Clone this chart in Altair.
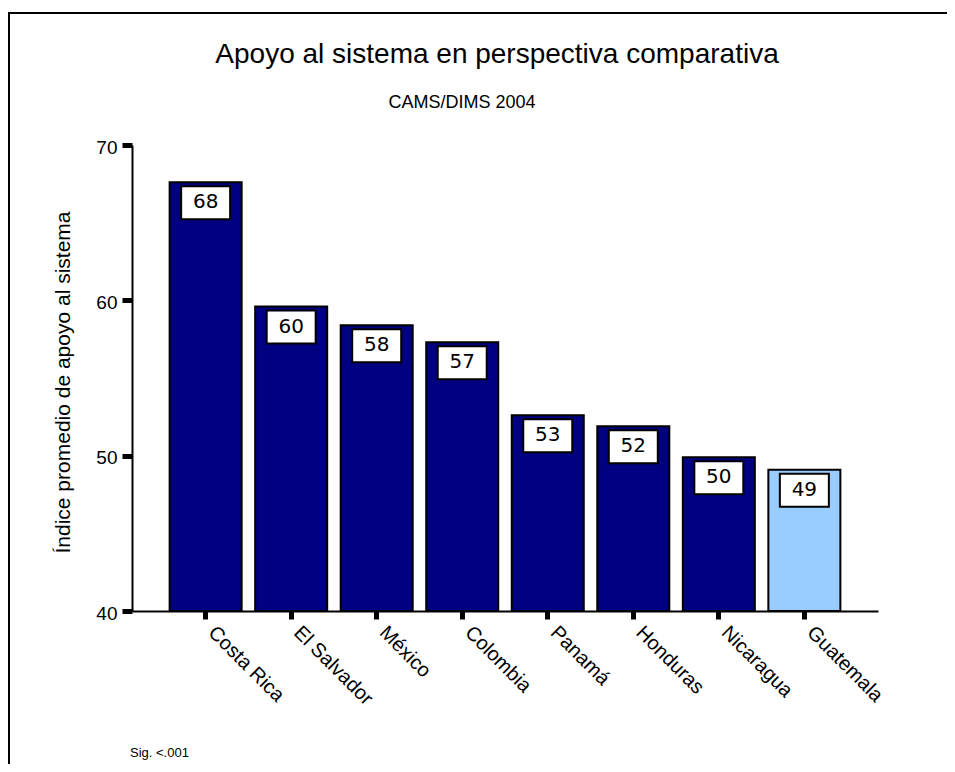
import altair as alt
import pandas as pd

countries = ["Costa Rica", "El Salvador", "México", "Colombia", "Panamá",
             "Honduras", "Nicaragua", "Guatemala"]
values = [67.6, 59.6, 58.4, 57.3, 52.6, 51.9, 49.9, 49.1]
value_labels = ["68", "60", "58", "57", "53", "52", "50", "49"]
y_ticks = [40, 50, 60, 70]

title_text = "Apoyo al sistema en perspectiva comparativa"
subtitle_text = "CAMS/DIMS 2004"
y_title = "Índice promedio de apoyo al sistema"
note_text = "Sig. <.001"

df = pd.DataFrame({"country": countries, "value": values, "label": value_labels})

FONT = "Liberation Sans"
W, H = 746, 466

x_enc = alt.X(
    "country:N",
    sort=countries,
    scale=alt.Scale(paddingInner=0.158, paddingOuter=0.44),
    axis=alt.Axis(
        title=None, labelAngle=45, labelAlign="left", labelBaseline="top",
        labelFont=FONT, labelFontSize=20, labelColor="black", labelPadding=3,
        labelOffset=13,
        tickSize=8, tickWidth=5, tickColor="black",
        domainColor="black", domainWidth=2, grid=False,
    ),
)
y_enc = alt.Y(
    "value:Q",
    scale=alt.Scale(domain=[40, 70], nice=False, zero=False),
    axis=alt.Axis(
        values=y_ticks, grid=False,
        labelFont=FONT, labelFontSize=19, labelColor="black", labelPadding=5,
        labelOffset=2,
        tickSize=10, tickWidth=5, tickColor="black",
        domainColor="black", domainWidth=2,
        title=y_title, titleFont=FONT, titleFontSize=21, titleFontWeight="normal",
        titleColor="black", titleAngle=-90, titleX=-69, titleY=237,
        titleAlign="center", titleBaseline="middle",
    ),
)

base = alt.Chart(df)

bars = base.mark_bar(stroke="black", strokeWidth=2).encode(
    x=x_enc,
    y=y_enc,
    y2=alt.datum(40),
    color=alt.condition(alt.datum.country == "Guatemala",
                        alt.value("#99CCFF"), alt.value("#000080")),
)

boxes = base.mark_bar(size=49, fill="white", stroke="black", strokeWidth=2,
                      yOffset=4, y2Offset=37).encode(
    x=alt.X("country:N", sort=countries),
    y="value:Q",
    y2="value:Q",
)

texts = base.mark_text(font="DejaVu Sans", fontSize=20, color="black",
                       baseline="alphabetic", dy=26).encode(
    x=alt.X("country:N", sort=countries),
    y="value:Q",
    text="label:N",
)

one = alt.Chart(pd.DataFrame({"k": [0]}))

title = one.mark_text(text=title_text, font=FONT, fontSize=28, color="black",
                      align="center", baseline="alphabetic").encode(
    x=alt.value(365), y=alt.value(-82))
subtitle = one.mark_text(text=subtitle_text, font=FONT, fontSize=18, color="black",
                         align="center", baseline="alphabetic").encode(
    x=alt.value(330), y=alt.value(-37))
note = one.mark_text(text=note_text, font=FONT, fontSize=13, color="black",
                     align="left", baseline="alphabetic").encode(
    x=alt.value(-2), y=alt.value(612))

frame_top = one.mark_rule(color="black", strokeWidth=2).encode(
    x=alt.value(-124), x2=alt.value(815), y=alt.value(-132))
frame_left = one.mark_rule(color="black", strokeWidth=2).encode(
    x=alt.value(-123), y=alt.value(-133), y2=alt.value(619))

chart = alt.layer(bars, boxes, texts, title, subtitle, note, frame_top, frame_left).properties(
    width=W, height=H,
    autosize=alt.AutoSizeParams(type="none"),
    padding={"left": 124, "top": 137, "right": 69, "bottom": 153},
    background="white",
).configure_view(stroke=None)

chart.save("out.html", embed_options={"renderer": "svg", "actions": False})
